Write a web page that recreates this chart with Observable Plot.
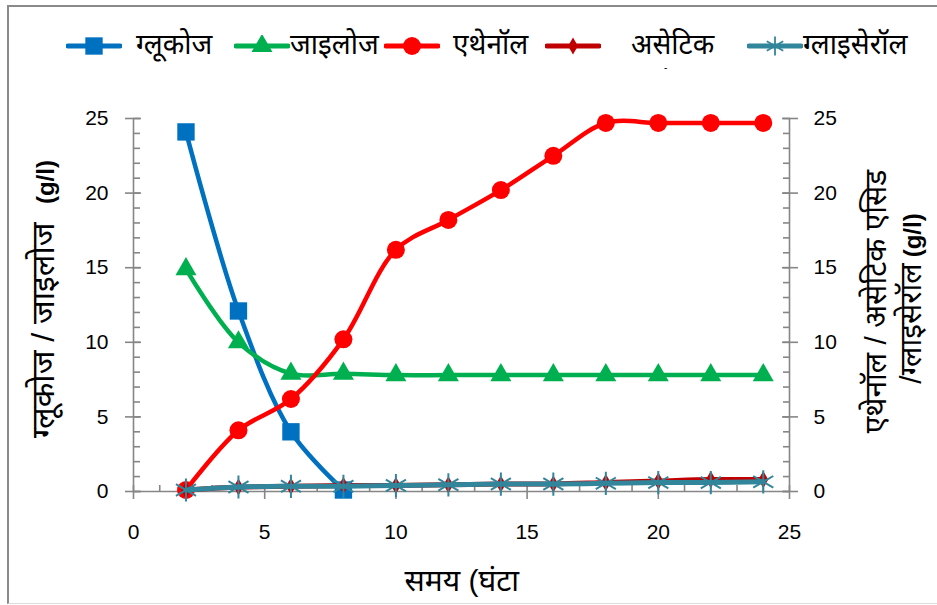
<!DOCTYPE html>
<html>
<head>
<meta charset="utf-8">
<script src="https://cdn.jsdelivr.net/npm/d3@7"></script>
<script src="https://cdn.jsdelivr.net/npm/@observablehq/plot@0.6"></script>
<style>
  body { margin: 0; background: #fff; }
  #chart { position: relative; width: 937px; height: 605px; overflow: hidden; background: #fff;
           font-family: "Liberation Sans", Arial, "Noto Sans", sans-serif; color: #000; }
  #border { position: absolute; left: 7px; top: 5px; right: -10px; bottom: 1px;
            border-left: 2px solid #8a8a8a; border-top: 2px solid #8a8a8a; border-bottom: 1px solid #dcdcdc; }
  #plot { position: absolute; left: 0; top: 0; }
  .leg { position: absolute; top: 35px; height: 22px; }
  .legtxt { position: absolute; top: 29px; font-size: 28px; line-height: 32px; white-space: nowrap; }
  .title { position: absolute; font-size: 22px; white-space: nowrap; line-height: 30px; }
  .title b { font-size: 24px; font-weight: bold; }
  .dev { font-size: 32px; }
  .devr { font-size: 30px; }
</style>
</head>
<body>
<div id="chart">
  <div id="border"></div>
  <div id="plot"></div>
</div>
<script>
// ---- data ----
const hours = [2, 4, 6, 8, 10, 12, 14, 16, 18, 20, 22, 24];
const glucose = [24.1, 12.1, 4.0, 0.1];
const xylose = [14.9, 10.0, 7.9, 7.9, 7.8, 7.8, 7.8, 7.8, 7.8, 7.8, 7.8, 7.8];
const ethanol = [0.1, 4.1, 6.2, 10.2, 16.2, 18.2, 20.2, 22.5, 24.7, 24.7, 24.7, 24.7];
const acetic = [0.1, 0.3, 0.35, 0.4, 0.4, 0.45, 0.5, 0.5, 0.6, 0.7, 0.8, 0.8];
const glycerol = [0.1, 0.3, 0.35, 0.35, 0.4, 0.45, 0.5, 0.5, 0.55, 0.6, 0.6, 0.65];
const seriesNames = ["ग्लूकोज", "जाइलोज", "एथेनॉल", "असेटिक", "ग्लाइसेरॉल"];
const xTicks = [0, 5, 10, 15, 20, 25];
const yTicks = [0, 5, 10, 15, 20, 25];
const minorTicks = d3.range(0, 26, 1);
const xTitle = "समय (घंटा";
const yLeftTitle = "ग्लूकोज / जाइलोज";
const yRightTitle1 = "एथेनॉल /  असेटिक एसिड";
const yRightTitle2 = "/ग्लाइसेरॉल";
const unitLabel = "(g/l)";

// ---- styles ----
const colors = ["#0070C0", "#00B050", "#FF0000", "#C00000", "#31869B"];
const symbols = ["square", "triangle", "circle", "diamond", "asterisk"];
const radii = [9.8, 7.8, 9, 5.2, 11];
const axisColor = "#868686";

const allSeries = [glucose, xylose, ethanol, acetic, glycerol];
const rows = allSeries.map((vals, i) => vals.map((v, j) => ({x: hours[j], y: v, s: seriesNames[i]})));

const marks = [];
// axis lines
marks.push(Plot.ruleX([0], {y1: 0, y2: 25, stroke: axisColor, strokeWidth: 1.6}));
marks.push(Plot.ruleX([25], {y1: 0, y2: 25, stroke: axisColor, strokeWidth: 1.6}));
marks.push(Plot.ruleY([0], {x1: 0, x2: 25, stroke: axisColor, strokeWidth: 1.6}));
// left axis: major out (with labels), major in, minor in
marks.push(Plot.axisY({anchor: "left", ticks: yTicks, tickSize: 8, tickPadding: 17, stroke: axisColor, strokeWidth: 1.6, fill: "#000", fontSize: 21, label: null}));
marks.push(Plot.axisY({anchor: "left", ticks: yTicks, tickSize: 8, dx: 8, tickFormat: () => "", stroke: axisColor, strokeWidth: 1.6, label: null}));
marks.push(Plot.axisY({anchor: "left", ticks: minorTicks, tickSize: 7, dx: 7, tickFormat: () => "", stroke: axisColor, strokeWidth: 1.6, label: null}));
// right axis
marks.push(Plot.axisY({anchor: "right", ticks: yTicks, tickSize: 8, tickPadding: 16, stroke: axisColor, strokeWidth: 1.6, fill: "#000", fontSize: 21, label: null}));
marks.push(Plot.axisY({anchor: "right", ticks: yTicks, tickSize: 8, dx: -8, tickFormat: () => "", stroke: axisColor, strokeWidth: 1.6, label: null}));
marks.push(Plot.axisY({anchor: "right", ticks: minorTicks, tickSize: 7, dx: -7, tickFormat: () => "", stroke: axisColor, strokeWidth: 1.6, label: null}));
// bottom axis
marks.push(Plot.axisX({anchor: "bottom", ticks: xTicks, tickSize: 8, tickPadding: 25, stroke: axisColor, strokeWidth: 1.6, fill: "#000", fontSize: 21, label: null}));
marks.push(Plot.axisX({anchor: "bottom", ticks: minorTicks, tickSize: 6, dy: -6, tickFormat: () => "", stroke: axisColor, strokeWidth: 1.6, label: null}));

// series
rows.forEach((data, i) => {
  marks.push(Plot.line(data, {x: "x", y: "y", stroke: colors[i], strokeWidth: i >= 3 ? 5 : 4.5, curve: "catmull-rom"}));
  if (symbols[i] === "asterisk") {
    marks.push(Plot.dot(data, {x: "x", y: "y", symbol: "asterisk", r: radii[i], stroke: colors[i], strokeWidth: 2, fill: "none"}));
  } else {
    marks.push(Plot.dot(data, {x: "x", y: "y", symbol: symbols[i], r: radii[i], fill: colors[i], stroke: "none"}));
  }
});

const svg = Plot.plot({
  width: 937,
  height: 605,
  marginLeft: 133,
  marginRight: 148,
  marginTop: 118,
  marginBottom: 114,
  x: {domain: [0, 25]},
  y: {domain: [0, 25]},
  style: {fontSize: "21px", fontFamily: "'Liberation Sans', Arial, sans-serif", background: "transparent", overflow: "visible"},
  marks
});
document.getElementById("plot").appendChild(svg);

// ---- legend ----
const chart = document.getElementById("chart");
const legSw = [66, 234, 384, 545, 747];
const legTx = [136, 290, 453, 631, 803];
seriesNames.forEach((name, i) => {
  const sw = d3.create("svg").attr("class", "leg").attr("width", 56).attr("height", 22)
    .style("left", legSw[i] + "px");
  sw.append("line").attr("x1", 2).attr("x2", 54).attr("y1", 11).attr("y2", 11)
    .attr("stroke", colors[i]).attr("stroke-width", 5).attr("stroke-linecap", "round");
  const sym = {square: d3.symbolSquare, triangle: d3.symbolTriangle, circle: d3.symbolCircle, diamond: d3.symbolDiamond, asterisk: d3.symbolAsterisk}[symbols[i]];
  const rr = symbols[i] === "asterisk" ? 9 : radii[i];
  const p = sw.append("path").attr("transform", "translate(28,11)")
    .attr("d", d3.symbol(sym, Math.PI * rr * rr)());
  if (symbols[i] === "asterisk") p.attr("fill", "none").attr("stroke", colors[i]).attr("stroke-width", 1.8);
  else p.attr("fill", colors[i]);
  chart.appendChild(sw.node());
  const t = document.createElement("div");
  t.className = "legtxt";
  t.style.left = legTx[i] + "px";
  t.textContent = name;
  chart.appendChild(t);
});
const dash = document.createElement("div");
dash.className = "legtxt";
dash.style.left = "664px"; dash.style.top = "52px"; dash.style.fontSize = "10px";
dash.textContent = "-";
chart.appendChild(dash);

// ---- axis titles ----
function addTitle(html, cx, cy, rotate, extra) {
  const d = document.createElement("div");
  d.className = "title";
  d.innerHTML = html;
  Object.assign(d.style, extra || {});
  chart.appendChild(d);
  const w = d.offsetWidth, h = d.offsetHeight;
  d.style.left = (cx - w / 2) + "px";
  d.style.top = (cy - h / 2) + "px";
  if (rotate) d.style.transform = "rotate(-90deg)";
}
addTitle('<span class="dev">' + yLeftTitle + '</span>&nbsp;&nbsp;&nbsp;<b>' + unitLabel + '</b>', 45, 299, true);
addTitle('<span class="devr">' + yRightTitle1 + '</span>', 878, 301, true);
addTitle('<span class="devr">' + yRightTitle2 + '</span> <b>' + unitLabel + '</b>', 912, 298, true);
addTitle('<span class="dev" style="font-size:30px">' + xTitle + '</span>', 462, 582, false);
</script>
</body>
</html>
